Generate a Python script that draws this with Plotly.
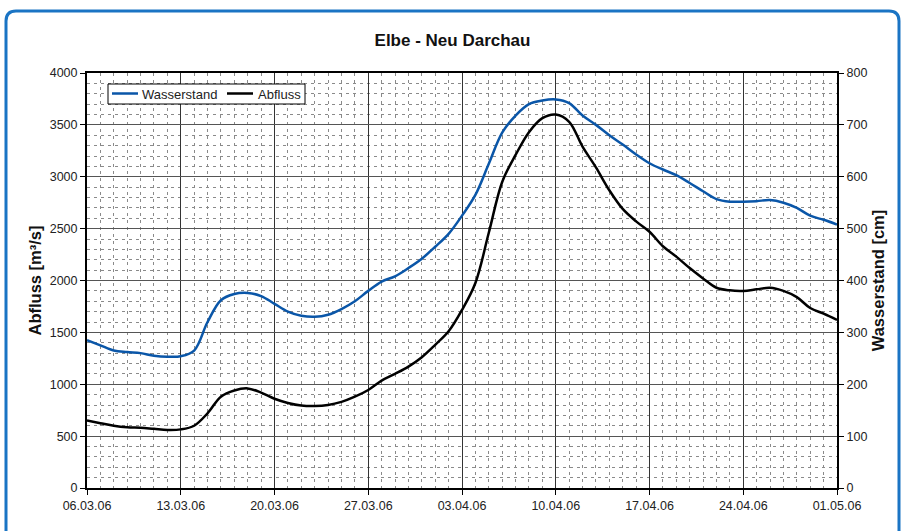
import plotly.graph_objects as go
import pandas as pd

dates = [d.strftime("%Y-%m-%d") for d in pd.date_range("2006-03-06", "2006-05-01", freq="D")]

abfluss = [650, 625, 600, 585, 580, 570, 560, 565, 600, 720,
           880, 940, 960, 920, 860, 820, 795, 790, 800, 830,
           880, 945, 1035, 1100, 1170, 1260, 1380, 1510, 1716, 1976,
           2460, 2950, 3210, 3430, 3565, 3600, 3530, 3290, 3090, 2870,
           2690, 2570, 2470, 2330, 2230, 2120, 2020, 1930, 1905, 1900,
           1915, 1930, 1900, 1840, 1735, 1680, 1620]

wasserstand = [285, 275, 265, 262, 260, 255, 253, 254, 265, 320,
               362, 374, 376, 370, 355, 340, 332, 330, 334, 345,
               360, 380, 398, 408, 424, 442, 465, 490, 525, 565,
               625, 685, 718, 740, 747, 749, 742, 718, 700, 680,
               662, 643, 626, 614, 603, 588, 572, 557, 552, 552,
               553, 555, 550, 540, 525, 517, 508]

series_names = ["Wasserstand", "Abfluss"]
series_colors = ["#0a56a8", "#000000"]

FONT = "Liberation Sans, Arial, sans-serif"

fig = go.Figure()
fig.add_trace(go.Scatter(x=dates, y=wasserstand, name=series_names[0], yaxis="y2",
                         mode="lines", line=dict(color=series_colors[0], width=2.5, shape="spline")))
fig.add_trace(go.Scatter(x=dates, y=abfluss, name=series_names[1], yaxis="y",
                         mode="lines", line=dict(color=series_colors[1], width=2.5, shape="spline")))

L, R, T, B = 87, 68, 73, 43
W, H = 905, 531
pw, ph = W - L - R, H - T - B

def px(x):
    return (x - L) / pw

def py(y):
    return (H - B - y) / ph

# rounded outer frame (bottom is off-screen)
x0, x1, y0, y1 = px(6), px(899), py(560), py(11)
rx, ry = 10 / pw, 10 / ph
path = (f"M {x0},{y0} L {x0},{y1-ry} Q {x0},{y1} {x0+rx},{y1} "
        f"L {x1-rx},{y1} Q {x1},{y1} {x1},{y1-ry} L {x1},{y0}")

shapes = [dict(type="path", path=path, xref="paper", yref="paper",
               line=dict(color="#1a74c4", width=3), layer="below")]

# manual legend box
shapes.append(dict(type="rect", xref="paper", yref="paper",
                   x0=px(108), x1=px(305), y0=py(104), y1=py(84),
                   line=dict(color="#000", width=1), fillcolor="white", layer="above"))
shapes.append(dict(type="line", xref="paper", yref="paper",
                   x0=px(112), x1=px(138), y0=py(93.5), y1=py(93.5),
                   line=dict(color=series_colors[0], width=2.5), layer="above"))
shapes.append(dict(type="line", xref="paper", yref="paper",
                   x0=px(227), x1=px(253), y0=py(93.5), y1=py(93.5),
                   line=dict(color=series_colors[1], width=2.5), layer="above"))

annotations = [
    dict(text=series_names[0], xref="paper", yref="paper", x=px(140), y=py(94),
         xanchor="left", yanchor="middle", showarrow=False,
         font=dict(family=FONT, size=13, color="#222")),
    dict(text=series_names[1], xref="paper", yref="paper", x=px(256), y=py(94),
         xanchor="left", yanchor="middle", showarrow=False,
         font=dict(family=FONT, size=13, color="#222")),
]

fig.update_layout(
    width=W, height=H,
    margin=dict(l=L, r=R, t=T, b=B),
    paper_bgcolor="white", plot_bgcolor="white",
    font=dict(family=FONT, size=12.5, color="#222"),
    title=dict(text="<b>Elbe - Neu Darchau</b>", x=0.5, xanchor="center", y=1 - 40 / H,
               yanchor="middle", font=dict(family=FONT, size=17, color="#111")),
    showlegend=False,
    shapes=shapes,
    annotations=annotations,
    xaxis=dict(
        type="date", range=["2006-03-06", "2006-05-01"],
        tick0="2006-03-06", dtick=7 * 86400000, tickformat="%d.%m.%y",
        showgrid=True, gridcolor="#333", gridwidth=1,
        minor=dict(dtick=86400000, tick0="2006-03-06", showgrid=True,
                   gridcolor="#8a8a8a", griddash="3px,4px", gridwidth=1),
        showline=True, linecolor="#000", linewidth=2, mirror=True,
        ticks="outside", ticklen=5, tickcolor="#000",
        tickfont=dict(family=FONT, size=12.5, color="#222"),
        zeroline=False,
    ),
    yaxis=dict(
        range=[0, 4000], dtick=500, tick0=0,
        title=dict(text="<b>Abfluss [m³/s]</b>", font=dict(family=FONT, size=16.5, color="#111"), standoff=4),
        showgrid=True, gridcolor="#555", gridwidth=1,
        minor=dict(dtick=100, showgrid=True, gridcolor="#8a8a8a", griddash="3px,4px", gridwidth=1),
        showline=True, linecolor="#000", linewidth=2,
        ticks="outside", ticklen=5, tickcolor="#000",
        tickfont=dict(family=FONT, size=12.5, color="#222"),
        zeroline=False,
    ),
    yaxis2=dict(
        range=[0, 800], dtick=100, tick0=0, overlaying="y", side="right",
        title=dict(text="<b>Wasserstand [cm]</b>", font=dict(family=FONT, size=16.5, color="#111"), standoff=6),
        showgrid=False,
        showline=True, linecolor="#000", linewidth=2,
        ticks="outside", ticklen=5, tickcolor="#000",
        tickfont=dict(family=FONT, size=12.5, color="#222"),
        zeroline=False,
    ),
)

fig.write_html("out.html", config={"displayModeBar": False},
               post_script="document.body.style.margin='0px';")
